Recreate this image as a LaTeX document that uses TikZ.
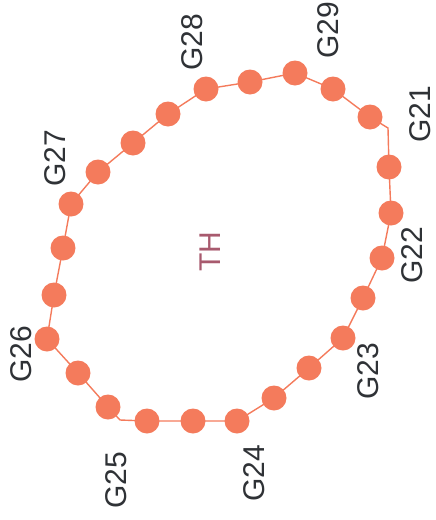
\documentclass[tikz,border=0pt]{standalone}
\usepackage{fontspec}
\setmainfont{Liberation Sans}
\definecolor{dotc}{HTML}{F47B5C}
\definecolor{labc}{HTML}{2F3236}
\definecolor{thc}{HTML}{A85A6E}
\begin{document}
\begin{tikzpicture}[x=1pt,y=-1pt,
  dot/.style={circle,fill=dotc,draw=none,minimum size=25pt,inner sep=0pt},
  lab/.style={text=labc,rotate=90,font=\fontsize{30}{30}\selectfont,inner sep=0pt},
  link/.style={draw=dotc,line width=1.4pt}]
\useasboundingbox (0,0) rectangle (436,520);
\foreach \n/\x/\y in {1/295/73,2/333/89,3/370/117,4/389/167,5/391/213,6/382/258,7/363/298,8/343/338,9/309/368,10/274/398,11/237/421,12/193/421,13/147/421,14/108/407,15/78/373,16/47/339,17/54/295,18/63/248,19/71/204,20/98/172,21/133/143,22/168/114,23/206/89,24/250/82}
  \coordinate (c\n) at (\x,\y);
\coordinate (b1) at (388,128);
\coordinate (b2) at (120,420);
\draw[link] (c1)--(c2)--(c3)--(b1)--(c4)--(c5)--(c6)--(c7)--(c8)--(c9)--(c10)--(c11)--(c12)--(c13)--(b2)--(c14)--(c15)--(c16)--(c17)--(c18)--(c19)--(c20)--(c21)--(c22)--(c23)--(c24)--cycle;
\foreach \n in {1,...,24} \node[dot] (d\n) at (c\n) {};
\node[lab] (G29) at (328,30) {G29};
\node[lab] (G28) at (192,42) {G28};
\node[lab] (G21) at (420,114) {G21};
\node[lab] (G27) at (55,158) {G27};
\node[lab] (G22) at (412,255) {G22};
\node[lab] (G23) at (368,371) {G23};
\node[lab] (G24) at (254,473) {G24};
\node[lab] (G25) at (116,480) {G25};
\node[lab] (G26) at (21,354) {G26};
\node[lab,text=thc] (TH) at (210,252) {TH};
\end{tikzpicture}
\end{document}
